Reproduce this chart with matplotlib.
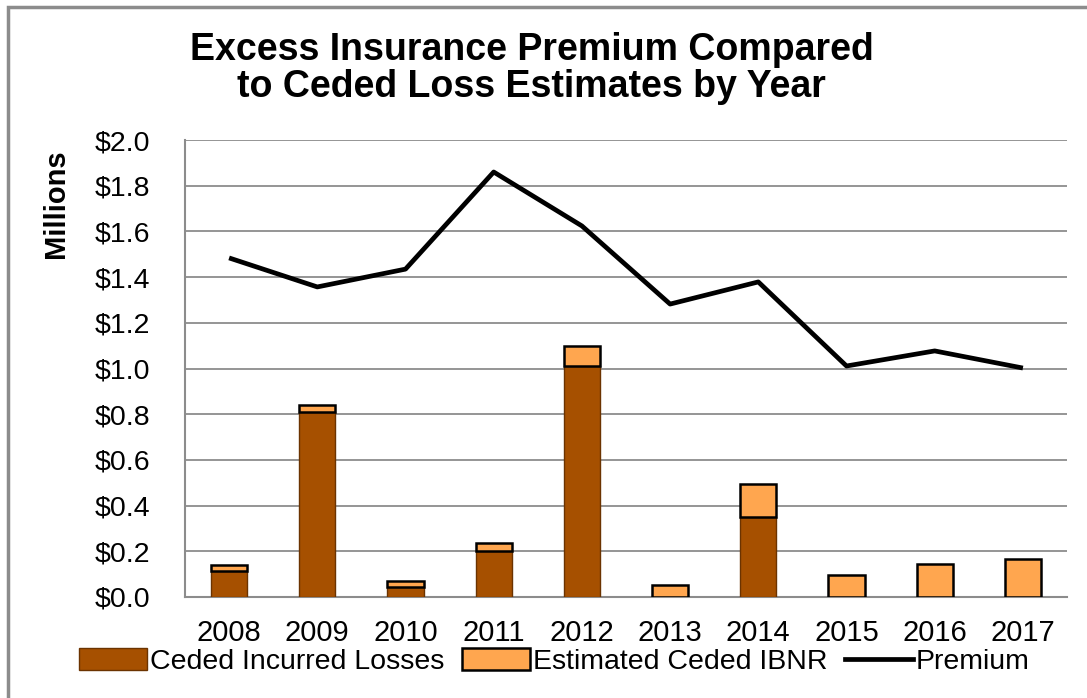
import matplotlib.pyplot as plt
import matplotlib.patches as mpatches
from matplotlib.lines import Line2D
import numpy as np

plt.rcParams['font.family'] = ['Liberation Sans', 'DejaVu Sans']

years = ["2008", "2009", "2010", "2011", "2012", "2013", "2014", "2015", "2016", "2017"]
incurred = [0.114, 0.81, 0.044, 0.20, 1.01, 0.0, 0.35, 0.0, 0.0, 0.0]
ibnr = [0.026, 0.03, 0.026, 0.036, 0.088, 0.052, 0.145, 0.096, 0.144, 0.166]
premium = [1.484, 1.357, 1.435, 1.86, 1.624, 1.282, 1.379, 1.011, 1.077, 1.002]

C_INC = "#A65000"
C_IBNR = "#FFA64F"

fig = plt.figure(figsize=(10.87, 6.98), dpi=100)
ax = fig.add_axes([0.1702, 0.1447, 0.8114, 0.6547])

x = np.arange(len(years))
w = 0.41
ax.bar(x, incurred, w, color=C_INC, edgecolor="#6b3300", linewidth=1.0, zorder=3)
ax.bar(x, ibnr, w, bottom=incurred, color=C_IBNR, edgecolor="black", linewidth=1.8, zorder=3)
ax.plot(x, premium, color="black", linewidth=3.4, zorder=4, solid_capstyle="butt")

ax.set_xlim(-0.5, len(years) - 0.5)
ax.set_ylim(0, 2.0)
ax.set_yticks(np.arange(0, 2.01, 0.2))
ax.set_yticklabels([f"${v:.1f}" for v in np.arange(0, 2.01, 0.2)], fontsize=20.5)
ax.set_xticks(x)
ax.set_xticklabels(years, fontsize=21)
ax.tick_params(axis="y", length=0, pad=25)
ax.tick_params(axis="x", length=0, pad=16)
ax.grid(axis="y", color="#8c8c8c", linewidth=1.3, zorder=0)
ax.set_axisbelow(True)
for s in ["top", "right"]:
    ax.spines[s].set_visible(False)
for s in ["left", "bottom"]:
    ax.spines[s].set_color("#8c8c8c")
    ax.spines[s].set_linewidth(1.5)

ax.set_ylabel("Millions", fontsize=21, fontweight="bold")
ax.yaxis.set_label_coords(-0.13, 0.86)

fig.text(0.489, 0.902, "Excess Insurance Premium Compared\nto Ceded Loss Estimates by Year",
         ha="center", va="center", fontsize=27, fontweight="bold", linespacing=1.05)

handles = [
    mpatches.Patch(facecolor=C_INC, edgecolor="#6b3300", linewidth=1.0, label="Ceded Incurred Losses"),
    mpatches.Patch(facecolor=C_IBNR, edgecolor="black", linewidth=1.8, label="Estimated Ceded IBNR"),
    Line2D([0], [0], color="black", linewidth=3.4, label="Premium"),
]
fig.legend(handles=handles, loc="center", bbox_to_anchor=(0.51, 0.052), ncol=3, frameon=False,
           fontsize=20.5, handlelength=2.4, handleheight=0.8, handletextpad=0.1, columnspacing=0.6)

# outer chart frame
fig.patches.append(mpatches.Rectangle((0.0075, -0.01), 1.2, 1.0, transform=fig.transFigure,
                                      fill=False, edgecolor="#8c8c8c", linewidth=2.5))

fig.savefig("out.png", dpi=100)
